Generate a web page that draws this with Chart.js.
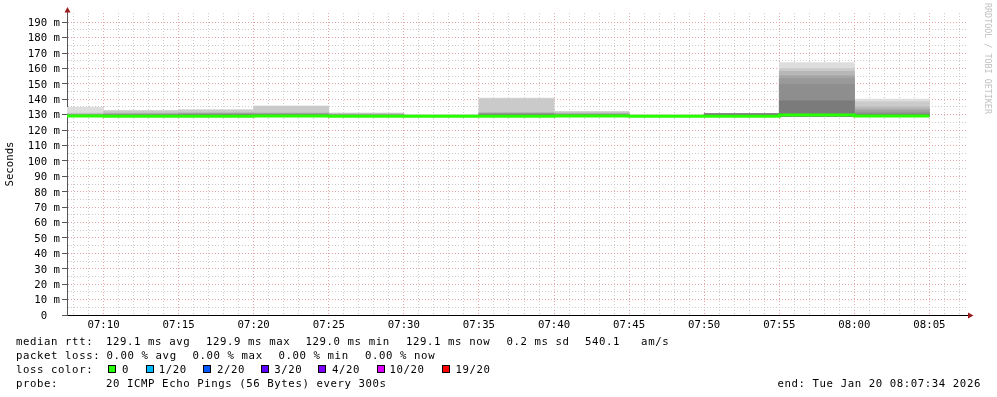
<!DOCTYPE html>
<html>
<head>
<meta charset="utf-8">
<script src="https://cdn.jsdelivr.net/npm/chart.js@4"></script>
<style>
    html, body { margin: 0; padding: 0; background: #fff; }
    #wrap { position: relative; width: 997px; height: 397px; overflow: hidden; }
    #chart { position: absolute; left: 0; top: 0; }
    .t {
        position: absolute;
        font-family: 'DejaVu Sans Mono', monospace;
        font-size: 10.7px;
        letter-spacing: 0.58px;
        line-height: 14px;
        white-space: pre;
        color: #000;
    }
    .sw {
        position: absolute;
        top: 365px;
        width: 8px;
        height: 8px;
        box-sizing: border-box;
        border: 1px solid #000;
    }
    #wm {
        position: absolute;
        left: 992px;
        top: 3px;
        transform: rotate(90deg);
        transform-origin: 0 0;
        font-family: 'DejaVu Sans Mono', monospace;
        font-size: 8.4px;
        line-height: 9px;
        color: #c0c0c0;
        white-space: pre;
    }
</style>
</head>
<body>
<div id="wrap">
    <canvas id="chart" width="997" height="397"></canvas>
    <div id="wm">RRDTOOL / TOBI OETIKER</div>
    <div id="legend"></div>
</div>
<script>
// ---- data ----
// each rrd step is 5 min, value stamped at the end of the step
const slotEnds = ['07:10', '07:15', '07:20', '07:25', '07:30', '07:35', '07:40', '07:45', '07:50', '07:55', '08:00', '08:05'];
const windowEnd = '08:07:34';

// median rtt per step (ms)
const medianRtt = [129.1, 129.0, 129.0, 129.2, 129.0, 129.0, 129.0, 129.1, 129.0, 129.0, 129.8, 129.1];
// lowest ping per step (ms)
const pingMin = [128.9, 128.9, 128.9, 128.9, 128.9, 128.9, 128.9, 128.9, 128.9, 128.9, 128.9, 128.9];

// smoke band tops (ms), outermost (lightest) first
const smoke1 = [134.7, 132.8, 133.3, 135.8, 131.2, 130.0, 140.8, 132.2, 129.9, 130.7, 163.9, 140.1];
const smoke2 = [131.0, 132.5, 133.0, 135.5, 130.9, 129.8, 140.4, 131.8, 129.7, 130.6, 160.0, 138.4];
const smoke3 = [130.6, 131.0, 131.4, 131.2, 130.5, 129.6, 131.4, 131.0, 129.5, 130.6, 158.2, 135.1];
const smoke4 = [130.3, 130.6, 130.9, 130.8, 130.2, 129.5, 131.0, 130.6, 129.4, 130.6, 155.2, 133.4];
const smoke5 = [130.0, 130.3, 130.5, 130.5, 129.9, 129.4, 130.7, 130.3, 129.3, 130.6, 153.5, 131.9];
const smoke6 = [129.7, 130.0, 130.2, 130.2, 129.6, 129.3, 130.4, 130.0, 129.2, 130.6, 149.6, 131.0];
const smoke7 = [129.4, 129.7, 129.9, 129.9, 129.4, 129.2, 130.1, 129.7, 129.1, 130.6, 139.0, 130.3];

const yTickLabels = ['0  ', '10 m', '20 m', '30 m', '40 m', '50 m', '60 m', '70 m', '80 m', '90 m',
    '100 m', '110 m', '120 m', '130 m', '140 m', '150 m', '160 m', '170 m', '180 m', '190 m'];

const lossLabels = ['0', '1/20', '2/20', '3/20', '4/20', '10/20', '19/20'];

// ---- styles ----
const smokeShades = ['#dddddd', '#cacaca', '#b7b7b7', '#a4a4a4', '#999999', '#8e8e8e', '#7b7b7b'];
const lossColors = ['#26ff00', '#00b8ff', '#0059ff', '#5e00ff', '#7e00ff', '#dd00ff', '#ff0000'];
const majorGrid = '#e3a5a5';
const minorGrid = '#cccccc';
const arrowRed = '#9b1c1c';

// minutes after 07:00
function toMin(s) {
    const p = s.split(':').map(Number);
    return (p[0] - 7) * 60 + p[1] + (p[2] || 0) / 60;
}

const xMax = toMin(windowEnd);
const xMin = xMax - 60;

// build datasets
const smokeBands = [smoke1, smoke2, smoke3, smoke4, smoke5, smoke6, smoke7];
const datasets = [];

smokeBands.forEach(function(tops, i) {
    datasets.push({
        type: 'bar',
        xAxisID: 'x',
        data: tops.map((t, j) => ({ x: toMin(slotEnds[j]) - 2.5, y: [pingMin[j], t] })),
        backgroundColor: smokeShades[i],
        borderWidth: 0,
        grouped: false,
        barPercentage: 1,
        categoryPercentage: 1,
        order: smokeBands.length - i
    });
});

// median line, step per rrd interval
const medianPoints = [{ x: toMin(slotEnds[0]) - 5, y: medianRtt[0] }];
slotEnds.forEach((t, j) => medianPoints.push({ x: toMin(t), y: medianRtt[j] }));

datasets.push({
    type: 'line',
    xAxisID: 'x',
    data: medianPoints,
    borderColor: lossColors[0],
    borderWidth: 3,
    pointRadius: 0,
    stepped: 'after',
    fill: false,
    order: 0
});

// little red arrows at the axis ends
const axisArrows = {
    id: 'axisArrows',
    afterDraw(chart) {
        const ctx = chart.ctx;
        const a = chart.chartArea;
        ctx.save();
        ctx.strokeStyle = '#555';
        ctx.lineWidth = 1;
        ctx.beginPath();
        ctx.moveTo(a.left + 0.5, a.top);
        ctx.lineTo(a.left + 0.5, a.top - 3);
        ctx.stroke();
        ctx.fillStyle = arrowRed;
        ctx.beginPath();
        ctx.moveTo(a.left - 2.5, a.top - 0.5);
        ctx.lineTo(a.left + 3.5, a.top - 0.5);
        ctx.lineTo(a.left + 0.5, a.top - 6);
        ctx.closePath();
        ctx.fill();
        ctx.beginPath();
        ctx.moveTo(a.right, a.bottom - 2.5);
        ctx.lineTo(a.right, a.bottom + 3.5);
        ctx.lineTo(a.right + 5.5, a.bottom + 0.5);
        ctx.closePath();
        ctx.fill();
        ctx.restore();
    }
};

Chart.defaults.font.family = "'DejaVu Sans Mono', monospace";
Chart.defaults.font.size = 10.7;
Chart.defaults.color = '#000';

new Chart(document.getElementById('chart'), {
    type: 'bar',
    data: { datasets: datasets },
    plugins: [axisArrows],
    options: {
        responsive: false,
        animation: false,
        layout: {
            padding: { left: 0, right: 29, top: 13, bottom: 0 }
        },
        plugins: {
            legend: { display: false },
            tooltip: { enabled: false }
        },
        scales: {
            x: {
                type: 'linear',
                position: 'bottom',
                min: xMin,
                max: xMax,
                offset: false,
                z: 1,
                afterBuildTicks: function(scale) {
                    scale.ticks = slotEnds.map(t => ({ value: toMin(t) }));
                },
                afterFit: function(scale) {
                    scale.height = 82;
                },
                ticks: {
                    autoSkip: false,
                    maxRotation: 0,
                    padding: 4,
                    color: '#000',
                    callback: (v, i) => slotEnds[i]
                },
                grid: {
                    color: majorGrid,
                    drawTicks: false,
                    offset: false
                },
                border: {
                    color: '#000',
                    dash: [1, 2]
                }
            },
            // minute grid only
            x2: {
                type: 'linear',
                position: 'bottom',
                min: xMin,
                max: xMax,
                offset: false,
                z: 1,
                afterBuildTicks: function(scale) {
                    const ticks = [];
                    for (let m = Math.ceil(xMin); m <= xMax; m++) ticks.push({ value: m });
                    scale.ticks = ticks;
                },
                afterFit: function(scale) {
                    scale.height = 0;
                },
                ticks: { display: false },
                grid: {
                    color: c => (c.tick && c.tick.value % 5 === 0) ? 'rgba(0,0,0,0)' : minorGrid,
                    drawTicks: false,
                    offset: false
                },
                border: {
                    display: false,
                    dash: [1, 2]
                }
            },
            y: {
                type: 'linear',
                min: 0,
                max: 196,
                z: 1,
                afterBuildTicks: function(scale) {
                    const ticks = [];
                    for (let v = 0; v <= 190; v += 5) ticks.push({ value: v });
                    scale.ticks = ticks;
                },
                afterFit: function(scale) {
                    scale.width = 67;
                },
                ticks: {
                    autoSkip: false,
                    padding: 2,
                    labelOffset: 1,
                    color: '#000',
                    callback: v => (v % 10 === 0 ? yTickLabels[v / 10] : '')
                },
                grid: {
                    color: c => (c.tick && c.tick.value % 10 === 0) ? majorGrid : minorGrid,
                    tickColor: c => (c.tick && c.tick.value % 10 === 0) ? '#555' : 'rgba(0,0,0,0)',
                    tickLength: 5
                },
                border: {
                    color: '#555',
                    dash: [1, 2]
                },
                title: {
                    display: true,
                    text: 'Seconds',
                    color: '#000',
                    padding: { top: 4, bottom: 0 }
                }
            }
        }
    }
});

// ---- legend text under the graph ----
const legendItems = [
    [16, 335, 'median rtt:'], [106, 335, '129.1 ms avg'], [206, 335, '129.9 ms max'],
    [305.5, 335, '129.0 ms min'], [406, 335, '129.1 ms now'], [506.5, 335, '0.2 ms sd'],
    [585, 335, '540.1   am/s'],
    [16, 349, 'packet loss:'], [106.5, 349, '0.00 % avg'], [192.5, 349, '0.00 % max'],
    [278.5, 349, '0.00 % min'], [365, 349, '0.00 % now'],
    [16, 363, 'loss color:'],
    [16, 377, 'probe:'], [106, 377, '20 ICMP Echo Pings (56 Bytes) every 300s'],
    [777.5, 377, 'end: Tue Jan 20 08:07:34 2026']
];
const swatchX = [108, 145.5, 203, 260.5, 318, 376.5, 442];
const swatchTextX = [122, 158.8, 216.9, 274.2, 332, 389.5, 455.5];

const legend = document.getElementById('legend');
legendItems.forEach(function(it) {
    const el = document.createElement('div');
    el.className = 't';
    el.style.left = it[0] + 'px';
    el.style.top = it[1] + 'px';
    el.textContent = it[2];
    legend.appendChild(el);
});
lossLabels.forEach(function(lbl, i) {
    const sw = document.createElement('div');
    sw.className = 'sw';
    sw.style.left = swatchX[i] + 'px';
    sw.style.background = lossColors[i];
    legend.appendChild(sw);
    const el = document.createElement('div');
    el.className = 't';
    el.style.left = swatchTextX[i] + 'px';
    el.style.top = '363px';
    el.textContent = lbl;
    legend.appendChild(el);
});
</script>
</body>
</html>
